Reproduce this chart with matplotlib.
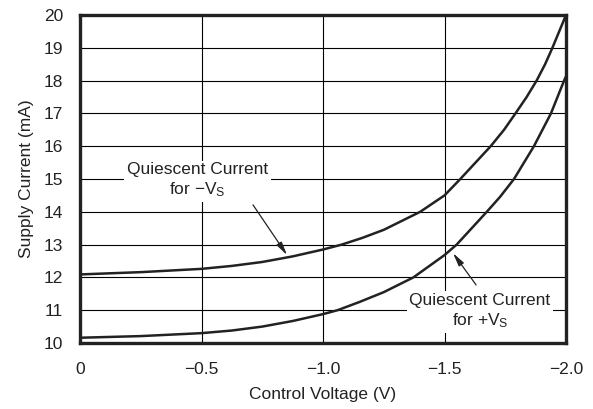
import matplotlib
matplotlib.use("Agg")
import matplotlib.pyplot as plt

plt.rcParams["font.family"] = ["Liberation Sans", "DejaVu Sans"]
plt.rcParams["mathtext.fontset"] = "custom"
plt.rcParams["mathtext.rm"] = "Liberation Sans"
plt.rcParams["mathtext.it"] = "Liberation Sans:italic"

# Quiescent current for -Vs (upper curve)
v_neg = [0, -0.25, -0.5, -0.625, -0.75, -0.875, -1.0, -1.077, -1.16, -1.25,
         -1.4, -1.5, -1.565, -1.69, -1.745, -1.792, -1.838, -1.879, -1.914,
         -1.944, -1.972, -2.0]
i_neg = [12.09, 12.16, 12.26, 12.35, 12.47, 12.64, 12.85, 13.0, 13.2, 13.45,
         14.0, 14.5, 15.0, 16.0, 16.5, 17.0, 17.5, 18.0, 18.5,
         19.0, 19.5, 20.0]

# Quiescent current for +Vs (lower curve)
v_pos = [0, -0.25, -0.5, -0.625, -0.75, -0.875, -1.0, -1.06, -1.15, -1.25,
         -1.372, -1.5, -1.55, -1.674, -1.728, -1.786, -1.868, -1.938, -1.992,
         -2.0]
i_pos = [10.16, 10.21, 10.30, 10.38, 10.50, 10.67, 10.88, 11.0, 11.25, 11.55,
         12.0, 12.68, 13.0, 14.0, 14.45, 15.0, 16.0, 17.0, 18.0,
         18.13]

x_ticks = [0, -0.5, -1.0, -1.5, -2.0]
x_labels = ["0", "\u22120.5", "\u22121.0", "\u22121.5", "\u22122.0"]
y_ticks = list(range(10, 21))

ink = "#222222"
fs = 12.5

fig = plt.figure(figsize=(5.93, 4.09), dpi=100)
ax = fig.add_axes([0.1349, 0.1614, 0.8196, 0.8019])

ax.plot(v_neg, i_neg, color=ink, lw=1.8, zorder=3)
ax.plot(v_pos, i_pos, color=ink, lw=1.8, zorder=3)

ax.set_xlim(0, -2.0)
ax.set_ylim(10, 20)
ax.set_xticks(x_ticks)
ax.set_xticklabels(x_labels)
ax.set_yticks(y_ticks)
ax.tick_params(length=0, labelsize=fs, colors=ink)
ax.tick_params(axis="x", pad=14)
ax.tick_params(axis="y", pad=12)
ax.grid(True, color="black", lw=0.8, zorder=1)

for s in ax.spines.values():
    s.set_linewidth(2.4)
    s.set_color(ink)
    s.set_zorder(5)

ax.set_xlabel("Control Voltage (V)", fontsize=fs, color=ink, labelpad=7)
ax.set_ylabel("Supply Current (mA)", fontsize=fs, color=ink, labelpad=7)

box = dict(facecolor="white", edgecolor="none", pad=2)
arrow = dict(arrowstyle="-|>,head_length=0.8,head_width=0.18",
             color=ink, lw=0.9, shrinkA=0, shrinkB=0)

ax.text(-0.484, 14.95, "Quiescent Current\nfor \u2212V$_\\mathrm{S}$",
        ha="center", va="center", fontsize=fs, color=ink,
        linespacing=1.25, bbox=box, zorder=4)
ax.annotate("", xy=(-0.852, 12.68), xytext=(-0.712, 14.21),
            arrowprops=arrow, zorder=4)

ax.text(-1.646, 10.97, "Quiescent Current\nfor +V$_\\mathrm{S}$",
        ha="center", va="center", fontsize=fs, color=ink,
        linespacing=1.25, bbox=box, zorder=4)
ax.annotate("", xy=(-1.535, 12.74), xytext=(-1.63, 11.77),
            arrowprops=arrow, zorder=4)

fig.savefig("out.png", dpi=100)
